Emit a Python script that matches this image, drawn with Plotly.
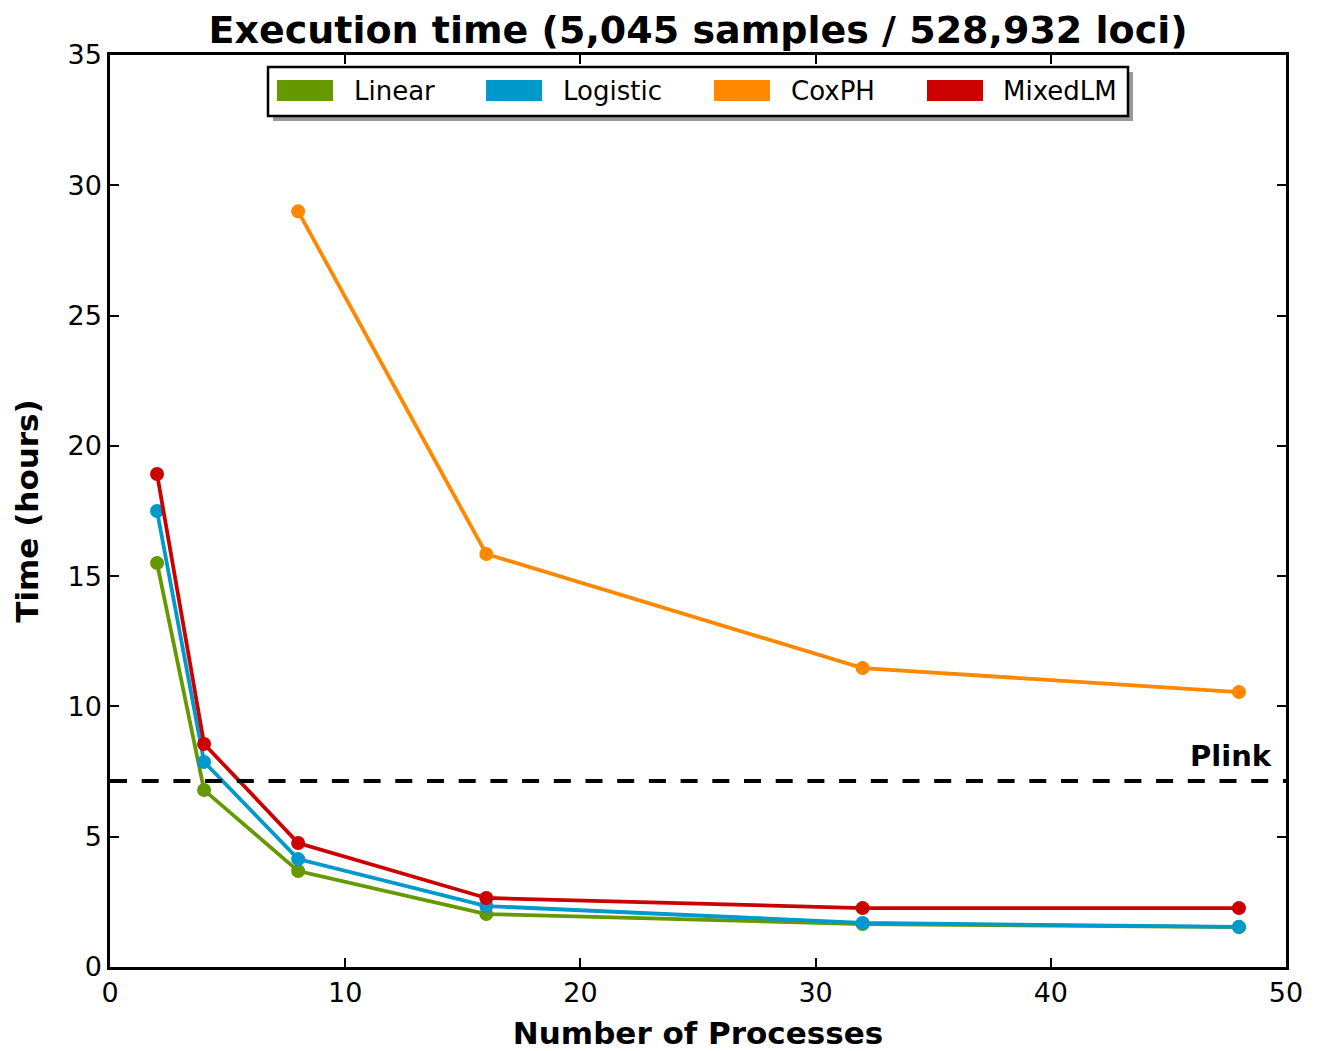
import plotly.graph_objects as go

processes = [2, 4, 8, 16, 32, 48]
linear = [15.5, 6.79, 3.68, 2.03, 1.65, 1.53]
logistic = [17.5, 7.87, 4.14, 2.34, 1.69, 1.54]
coxph_x = [8, 16, 32, 48]
coxph = [29.0, 15.85, 11.47, 10.55]
mixedlm = [18.92, 8.56, 4.76, 2.65, 2.26, 2.26]
plink_time = 7.14

series_names = ["Linear", "Logistic", "CoxPH", "MixedLM"]
series_colors = ["#669900", "#0099CC", "#FF8800", "#CC0000"]

FONT = "DejaVu Sans"

fig = go.Figure()
data = [(processes, linear), (processes, logistic), (coxph_x, coxph), (processes, mixedlm)]
for (xs, ys), name, color in zip(data, series_names, series_colors):
    fig.add_trace(go.Scatter(
        x=xs, y=ys, mode="lines+markers", name=name,
        line=dict(color=color, width=3.8),
        marker=dict(color=color, size=14),
        showlegend=False,
    ))

# Plink reference line
fig.add_shape(type="line", xref="x", yref="y", x0=0, x1=50, y0=plink_time, y1=plink_time,
              line=dict(color="black", width=4, dash="17px,14.7px"))
fig.add_annotation(x=49.5, y=plink_time, xref="x", yref="y", text="<b>Plink</b>",
                   showarrow=False, xanchor="right", yanchor="bottom", yshift=6,
                   font=dict(family=FONT, size=29, color="black"))

# Custom legend (paper coords)
W, H = 1317, 1051
L, R, T, B = 110, 31, 55, 84
pw, ph = W - L - R, H - T - B

def px(xp):
    return (xp - L) / pw

def py(yp):
    return (H - B - yp) / ph

# shadow
fig.add_shape(type="rect", xref="paper", yref="paper",
              x0=px(273), x1=px(1133), y0=py(121), y1=py(72),
              line=dict(width=0), fillcolor="#999999", layer="above")
fig.add_shape(type="rect", xref="paper", yref="paper",
              x0=px(268), x1=px(1128), y0=py(116), y1=py(67),
              line=dict(color="black", width=2.5), fillcolor="white", layer="above")
entry_x = [277, 486, 714, 927]
text_x = [352, 561, 789, 1001]
for ex, tx, name, color in zip(entry_x, text_x, series_names, series_colors):
    fig.add_shape(type="rect", xref="paper", yref="paper",
                  x0=px(ex), x1=px(ex + 56), y0=py(101), y1=py(80),
                  line=dict(width=0), fillcolor=color, layer="above")
    fig.add_annotation(x=px(tx), y=py(91), xref="paper", yref="paper",
                       text=name, showarrow=False, xanchor="left", yanchor="middle",
                       font=dict(family=FONT, size=26, color="black"))

fig.update_layout(
    width=W, height=H,
    margin=dict(l=L, r=R, t=T, b=B),
    paper_bgcolor="white", plot_bgcolor="white",
    font=dict(family=FONT, size=27, color="black"),
    title=dict(text="<b>Execution time (5,045 samples / 528,932 loci)</b>",
               x=0.5, xref="paper", xanchor="center", y=1 - 30 / H, yanchor="middle",
               font=dict(family=FONT, size=38, color="black")),
    xaxis=dict(range=[0, 50], tickvals=[0, 10, 20, 30, 40, 50],
               showgrid=False, zeroline=False, automargin=False,
               showline=True, linecolor="black", linewidth=2.5, mirror="ticks",
               ticks="inside", ticklen=9, tickwidth=1.5, tickcolor="black",
               tickfont=dict(family=FONT, size=27),
               title=dict(text="<b>Number of Processes</b>", standoff=17,
                          font=dict(family=FONT, size=31))),
    yaxis=dict(range=[0, 35], tickvals=[0, 5, 10, 15, 20, 25, 30, 35],
               showgrid=False, zeroline=False, automargin=False,
               showline=True, linecolor="black", linewidth=2.5, mirror="ticks",
               ticks="inside", ticklen=9, tickwidth=1.5, tickcolor="black",
               tickfont=dict(family=FONT, size=27),
               title=dict(text="<b>Time (hours)</b>", standoff=20,
                          font=dict(family=FONT, size=31))),
)

fig.write_html("out.html")
